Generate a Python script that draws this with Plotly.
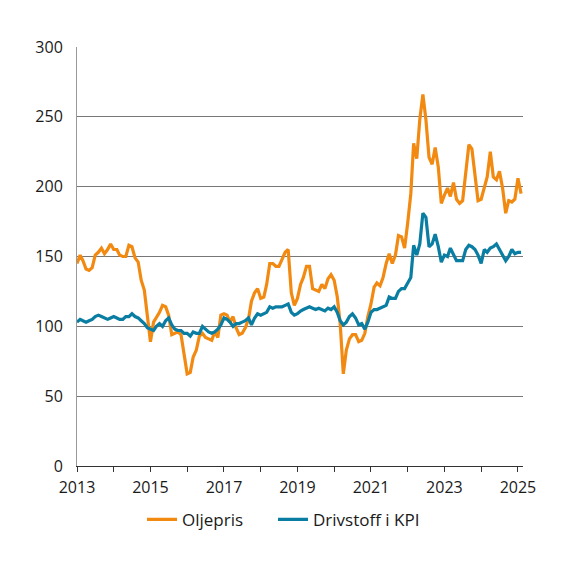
import pandas as pd
import plotly.graph_objects as go

months = pd.date_range("2013-01-01", "2025-02-01", freq="MS")

oljepris = [
    145, 151, 147, 141, 140, 142, 151, 153, 156, 152, 155, 159,  # 2013
    155, 155, 151, 150, 150, 158, 157, 149, 146, 133, 126, 107,  # 2014
    89, 103, 106, 110, 115, 114, 108, 94, 95, 96, 94, 81,  # 2015
    66, 67, 78, 83, 93, 95, 92, 91, 90, 96, 92, 108,  # 2016
    109, 108, 103, 107, 99, 94, 95, 99, 105, 118, 124, 127,  # 2017
    120, 121, 130, 145, 145, 143, 143, 148, 153, 155, 124, 115,  # 2018
    120, 130, 135, 143, 143, 127, 126, 125, 130, 127, 134, 137,  # 2019
    133, 121, 102, 66, 83, 91, 94, 94, 89, 90, 95, 107,  # 2020
    116, 128, 131, 129, 135, 145, 152, 145, 151, 165, 164, 156,  # 2021
    174, 195, 231, 220, 248, 266, 248, 221, 216, 228, 214, 188,  # 2022
    194, 199, 193, 203, 191, 188, 190, 212, 230, 227, 209, 190,  # 2023
    191, 200, 207, 225, 207, 205, 211, 199, 181, 190, 189, 191,  # 2024
    206, 195,  # 2025
]

drivstoff = [
    103, 105, 104, 103, 104, 105, 107, 108, 107, 106, 105, 106,  # 2013
    107, 106, 105, 105, 107, 107, 109, 107, 106, 104, 102, 99,  # 2014
    98, 97, 100, 102, 100, 104, 106, 101, 98, 97, 97, 95,  # 2015
    95, 93, 96, 95, 95, 100, 98, 96, 95, 96, 98, 101,  # 2016
    106, 105, 103, 100, 102, 102, 103, 104, 106, 101, 106, 109,  # 2017
    108, 109, 110, 114, 113, 114, 114, 114, 115, 116, 110, 108,  # 2018
    109, 111, 112, 113, 114, 113, 112, 113, 112, 111, 113, 112,  # 2019
    114, 110, 104, 101, 103, 107, 109, 106, 101, 102, 98, 103,  # 2020
    110, 112, 112, 113, 114, 115, 121, 120, 120, 125, 127, 127,  # 2021
    131, 135, 158, 151, 159, 181, 178, 157, 159, 166, 157, 146,  # 2022
    151, 150, 156, 151, 147, 147, 147, 155, 158, 157, 155, 151,  # 2023
    145, 155, 153, 156, 157, 159, 155, 151, 147, 150, 155, 152,  # 2024
    153, 153,  # 2025
]

fig = go.Figure()
fig.add_trace(go.Scatter(x=months, y=oljepris, name="Oljepris", mode="lines",
                         line=dict(color="#F28A12", width=3.2), legend="legend"))
fig.add_trace(go.Scatter(x=months, y=drivstoff, name="Drivstoff i KPI", mode="lines",
                         line=dict(color="#0A7DA3", width=3.2), legend="legend2"))

# page body adds ~8px offset, so margins are shifted to compensate
leg = dict(orientation="h", xref="container", xanchor="left",
           yref="container", y=0.099, yanchor="middle", font=dict(size=17))
fig.update_layout(
    width=576, height=568,
    margin=dict(l=69, r=61, t=39, b=110, autoexpand=False),
    plot_bgcolor="white", paper_bgcolor="white",
    font=dict(family="Open Sans", size=16, color="#1a1a1a"),
    showlegend=True,
    legend=dict(leg, x=134 / 576),
    legend2=dict(leg, x=265 / 576),
)
fig.update_xaxes(
    range=["2013-01-01", "2025-02-20"],
    dtick="M24", tick0="2013-01-01", tickformat="%Y",
    ticks="outside", ticklen=5, tickcolor="#333", ticklabelstandoff=2,
    minor=dict(dtick="M12", ticks="outside", ticklen=5, tickcolor="#333"),
    showgrid=False, showline=True, linecolor="#333", linewidth=1,
    zeroline=False,
)
fig.update_yaxes(
    range=[0, 300], dtick=50,
    showgrid=True, gridcolor="#777777", gridwidth=1,
    showline=True, linecolor="#999", linewidth=1,
    zeroline=False, ticks="", ticklabelstandoff=10,
)

fig.write_html("out.html")
